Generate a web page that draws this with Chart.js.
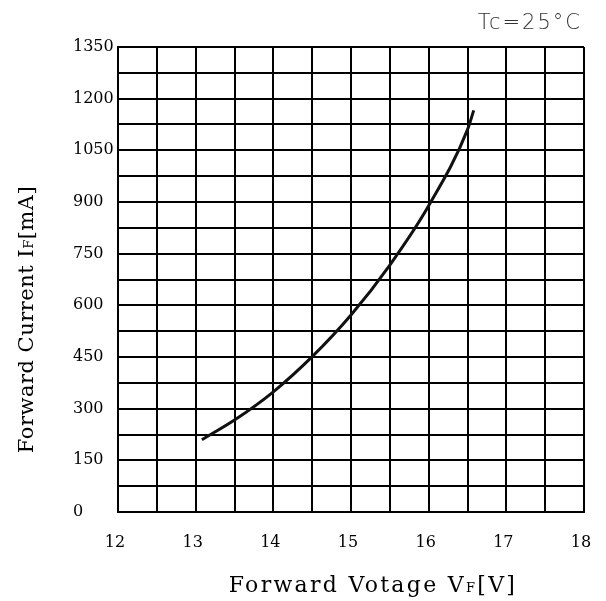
<!DOCTYPE html>
<html><head><meta charset="utf-8">
<script src="https://cdn.jsdelivr.net/npm/chart.js@4.4.0/dist/chart.umd.min.js"></script>
<style>html,body{margin:0;padding:0;background:#fff}#wrap{width:606px;height:601px}</style>
</head><body><div id="wrap"><canvas id="c" width="606" height="601"></canvas></div>
<script>
const voltage = [13.08, 13.5, 14.0, 14.5, 15.0, 15.5, 16.0, 16.5, 16.58];
const current = [210, 267, 349, 451, 572, 717, 889, 1110, 1166];
const xTickLabels = [12, 13, 14, 15, 16, 17, 18];
const yTickLabels = [0, 150, 300, 450, 600, 750, 900, 1050, 1200, 1350];
const xTitleParts = ['Forward Votage V', 'F', '[V]'];
const yTitleParts = ['Forward Current I', 'F', '[mA]'];
const noteText = 'Tc=25°C';

const serif = '"DejaVu Serif", serif';

function drawParts(ctx, parts, bigFont, smallFont, spacing) {
  const fonts = [bigFont, smallFont, bigFont];
  let widths = parts.map((p, i) => { ctx.font = fonts[i]; ctx.letterSpacing = spacing; return ctx.measureText(p).width; });
  const total = widths.reduce((a, b) => a + b, 0);
  let x = -total / 2;
  parts.forEach((p, i) => {
    ctx.font = fonts[i];
    ctx.letterSpacing = spacing;
    ctx.fillText(p, x, 0);
    x += widths[i];
  });
}

const textPlugin = {
  id: 'texts',
  afterDraw(chart) {
    const ctx = chart.ctx;
    const ca = chart.chartArea;
    ctx.save();
    ctx.fillStyle = '#000';
    ctx.textAlign = 'left';
    ctx.textBaseline = 'alphabetic';
    // x title
    ctx.save();
    ctx.translate((ca.left + ca.right) / 2 + 22, ca.bottom + 80);
    drawParts(ctx, xTitleParts, '22px ' + serif, '13px ' + serif, '2.3px');
    ctx.restore();
    // y title
    ctx.save();
    ctx.translate(33, (ca.top + ca.bottom) / 2 + 40);
    ctx.rotate(-Math.PI / 2);
    drawParts(ctx, yTitleParts, '21px ' + serif, '13px ' + serif, '0.5px');
    ctx.restore();
    // note
    ctx.font = '200 21px "DejaVu Sans", sans-serif';
    ctx.letterSpacing = '2px';
    ctx.fillStyle = '#333';
    ctx.textAlign = 'right';
    ctx.fillText(noteText, 582, 29);
    ctx.restore();
  }
};

new Chart(document.getElementById('c'), {
  type: 'line',
  data: {
    datasets: [{
      data: voltage.map((v, i) => ({ x: v, y: current[i] })),
      borderColor: '#111',
      borderWidth: 3,
      pointRadius: 0,
      cubicInterpolationMode: 'monotone',
      fill: false
    }]
  },
  options: {
    responsive: false,
    animation: false,
    devicePixelRatio: 1,
    layout: { padding: { left: 73, top: 47, right: 22, bottom: 0 } },
    plugins: { legend: { display: false }, tooltip: { enabled: false } },
    scales: {
      x: {
        type: 'linear', min: 12, max: 18,
        afterFit(s) { s.height = 89; s.paddingLeft = 0; s.paddingRight = 0; },
        ticks: {
          stepSize: 0.5, autoSkip: false, maxRotation: 0, maxTicksLimit: 100,
          callback: v => xTickLabels.includes(v) ? String(v) : '',
          font: { family: 'DejaVu Serif', size: 16 }, color: '#000', padding: 21, labelOffset: -3
        },
        grid: { color: '#000', lineWidth: 2, drawTicks: false },
        border: { display: true, color: '#000', width: 2 }
      },
      y: {
        type: 'linear', min: 0, max: 1350,
        afterFit(s) { s.width = 45; s.paddingTop = 0; s.paddingBottom = 0; },
        ticks: {
          stepSize: 75, autoSkip: false, maxTicksLimit: 100, crossAlign: 'far',
          callback: v => yTickLabels.includes(v) ? String(v) : '',
          font: { family: 'DejaVu Serif', size: 16 }, color: '#000', padding: 4
        },
        grid: { color: '#000', lineWidth: 2, drawTicks: false },
        border: { display: true, color: '#000', width: 2 }
      }
    }
  },
  plugins: [textPlugin]
});
</script></body></html>
